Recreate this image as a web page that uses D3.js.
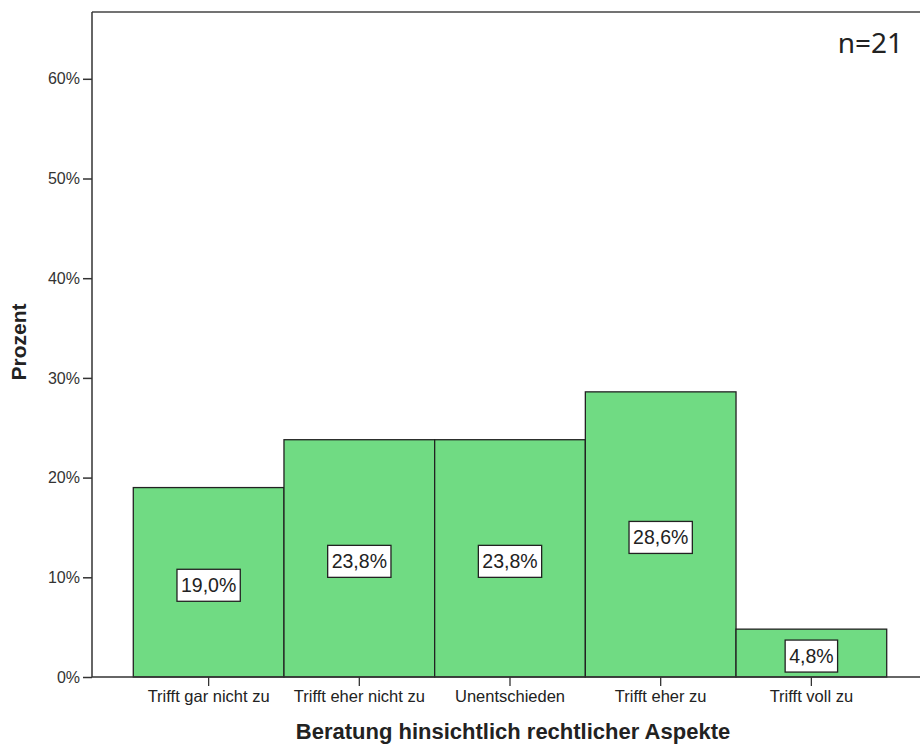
<!DOCTYPE html>
<html>
<head>
	<meta charset="utf-8">
	<title>Beratung hinsichtlich rechtlicher Aspekte</title>
	<style>
		html, body { margin: 0; background: white; }
		svg { display: block; }
		text { font-family: "Liberation Sans", Arial, sans-serif; fill: #222; }
	</style>
	<script src="https://cdn.jsdelivr.net/npm/d3@7/dist/d3.min.js"></script>
</head>
<body>
	<svg id="svg" width="920" height="747"></svg>
	<script>
		const categories = ['Trifft gar nicht zu', 'Trifft eher nicht zu', 'Unentschieden', 'Trifft eher zu', 'Trifft voll zu'];
		const percents = [19.0, 23.8, 23.8, 28.6, 4.8];
		const yTicks = [0, 10, 20, 30, 40, 50, 60];
		const BAR_COLOR = '#70db83';

		const svg = d3.select('#svg');
		const plotLeft = 92, plotTop = 12, plotBottom = 677, plotRight = 928;

		const x = d3.scaleBand()
			.domain(categories)
			.range([plotLeft, plotRight])
			.paddingInner(0)
			.paddingOuter(0.274);

		const y = d3.scaleLinear()
			.domain([0, 66.7])
			.range([plotBottom, plotTop]);

		// frame: top line
		svg.append('line')
			.attr('x1', plotLeft).attr('x2', 920)
			.attr('y1', plotTop).attr('y2', plotTop)
			.attr('stroke', '#444').attr('stroke-width', 1.5);

		// bars
		svg.append('g').selectAll('rect')
			.data(percents)
			.join('rect')
			.attr('x', (d, i) => x(categories[i]))
			.attr('y', d => y(d))
			.attr('width', x.bandwidth())
			.attr('height', d => plotBottom - y(d))
			.attr('fill', BAR_COLOR)
			.attr('stroke', '#222')
			.attr('stroke-width', 1.3);

		// y axis
		const yAxis = svg.append('g')
			.attr('transform', `translate(${plotLeft},0)`)
			.call(d3.axisLeft(y).tickValues(yTicks).tickSize(9).tickPadding(3).tickFormat(d => d + '%'));
		yAxis.select('.domain').attr('d', `M0,${plotTop}V${plotBottom}`).attr('stroke', '#333').attr('stroke-width', 1.5);
		yAxis.selectAll('.tick line').attr('stroke', '#333').attr('stroke-width', 1.5);
		yAxis.selectAll('.tick text').style('font-size', '16px').style('fill', '#333')
			.style('font-family', '"Liberation Sans", Arial, sans-serif');

		// x axis
		const xAxis = svg.append('g')
			.attr('transform', `translate(0,${plotBottom})`)
			.call(d3.axisBottom(x).tickSize(9).tickPadding(4));
		xAxis.select('.domain').attr('d', `M${plotLeft},0H920`).attr('stroke', '#333').attr('stroke-width', 1.5);
		xAxis.selectAll('.tick line').attr('stroke', '#333').attr('stroke-width', 1.3);
		xAxis.selectAll('.tick text').style('font-size', '16.5px').style('fill', '#222')
			.style('font-family', '"Liberation Sans", Arial, sans-serif');

		// value labels in boxes
		const labels = svg.append('g').selectAll('g')
			.data(percents)
			.join('g')
			.attr('transform', (d, i) => `translate(${x(categories[i]) + x.bandwidth() / 2},${(y(d) + plotBottom) / 2 + 3})`);

		labels.append('text')
			.attr('text-anchor', 'middle')
			.attr('dy', '0.36em')
			.style('font-size', '19.5px')
			.text(d => d.toFixed(1).replace('.', ',') + '%')
			.each(function () {
				const b = this.getBBox();
				d3.select(this.parentNode).insert('rect', 'text')
					.attr('x', b.x - 4)
					.attr('y', -16)
					.attr('width', b.width + 8)
					.attr('height', 32)
					.attr('fill', 'white')
					.attr('stroke', '#222')
					.attr('stroke-width', 1.3);
			});

		// axis titles
		svg.append('text')
			.attr('x', 513).attr('y', 739)
			.attr('text-anchor', 'middle')
			.style('font-size', '22px').style('font-weight', 'bold')
			.text('Beratung hinsichtlich rechtlicher Aspekte');

		svg.append('text')
			.attr('transform', 'translate(26,342) rotate(-90)')
			.attr('text-anchor', 'middle')
			.style('font-size', '21px').style('font-weight', 'bold')
			.text('Prozent');

		// sample size
		svg.append('text')
			.attr('x', 903).attr('y', 53)
			.attr('text-anchor', 'end')
			.style('font-family', '"Noto Sans", "Open Sans", sans-serif')
			.style('font-size', '28px')
			.text('n=21');
	</script>
</body>
</html>
